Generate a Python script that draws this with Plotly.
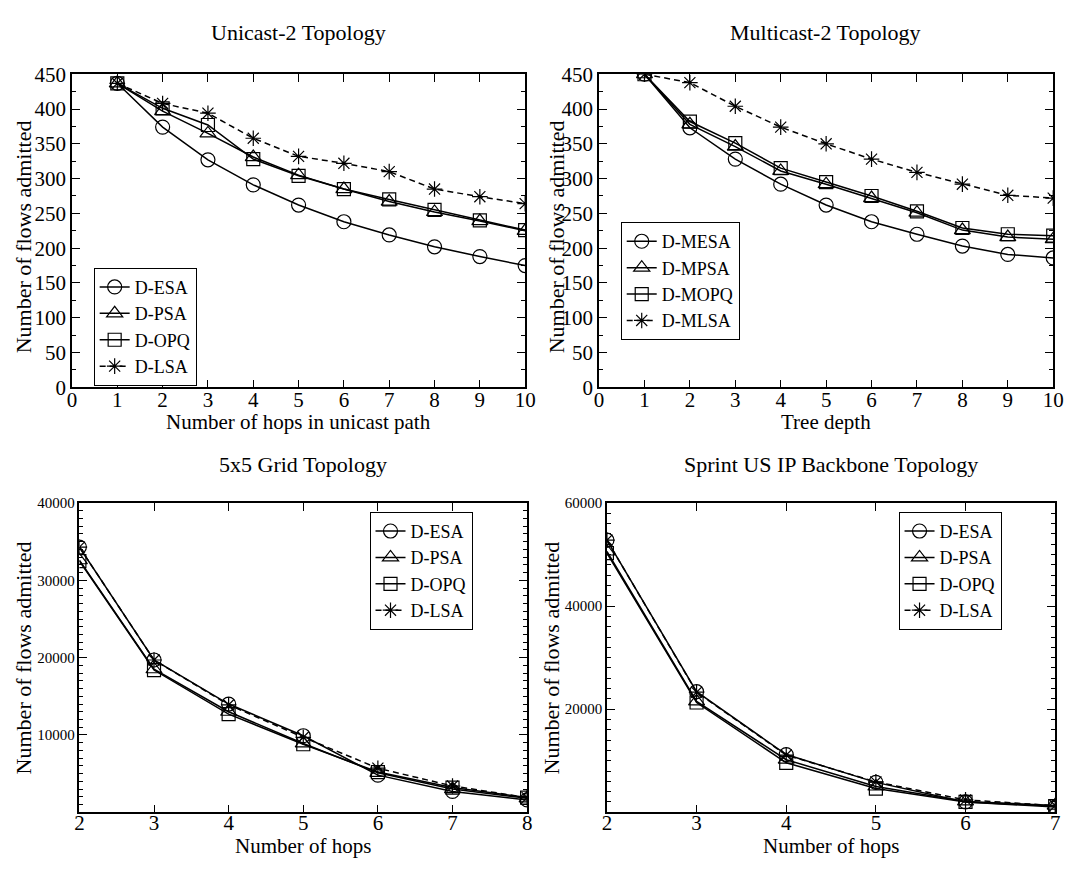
import plotly.graph_objects as go

# ---- data -------------------------------------------------------------
hops_unicast = [1, 2, 3, 4, 5, 6, 7, 8, 9, 10]
esa_unicast = [437, 374, 327, 291, 262, 238, 219, 202, 188, 175]
psa_unicast = [437, 397, 365, 331, 305, 285, 267, 252, 239, 225]
opq_unicast = [437, 401, 377, 328, 304, 285, 270, 255, 240, 226]
lsa_unicast = [437, 408, 394, 358, 332, 322, 310, 285, 274, 264]

tree_depth = [1, 2, 3, 4, 5, 6, 7, 8, 9, 10]
mesa_multicast = [450, 373, 328, 292, 262, 238, 220, 203, 191, 186]
mpsa_multicast = [450, 378, 346, 311, 292, 272, 251, 226, 216, 213]
mopq_multicast = [450, 382, 351, 315, 295, 275, 253, 229, 220, 218]
mlsa_multicast = [450, 438, 404, 374, 350, 328, 309, 292, 276, 272]

hops_grid = [2, 3, 4, 5, 6, 7, 8]
esa_grid = [34300, 19700, 14000, 9900, 4800, 2700, 1600]
psa_grid = [32600, 18500, 13000, 8900, 5100, 3000, 1800]
opq_grid = [32500, 18400, 12700, 8800, 5200, 3200, 1900]
lsa_grid = [34300, 19700, 13900, 9700, 5700, 3400, 1900]

hops_sprint = [2, 3, 4, 5, 6, 7]
esa_sprint = [52800, 23400, 11200, 5800, 2000, 1000]
psa_sprint = [50600, 21500, 10200, 5000, 2100, 1300]
opq_sprint = [50300, 21300, 9600, 4600, 2000, 1200]
lsa_sprint = [52800, 23300, 11100, 5900, 2400, 1300]

names_unicast = ["D-ESA", "D-PSA", "D-OPQ", "D-LSA"]
names_multicast = ["D-MESA", "D-MPSA", "D-MOPQ", "D-MLSA"]

# ---- styling ----------------------------------------------------------
W, H = 1078, 869
FONT = "Liberation Serif"
symbols = ["circle-open", "triangle-up-open", "square-open", "asterisk-open"]
sizes = [14, 14, 13, 13]
dashes = ["solid", "solid", "solid", "6px,4px"]


def px_x(p):
    return p / W


def px_y(p):
    return 1 - p / H


fig = go.Figure()

panels = [
    ("x", "y", "legend", hops_unicast,
     [esa_unicast, psa_unicast, opq_unicast, lsa_unicast], names_unicast),
    ("x2", "y2", "legend2", tree_depth,
     [mesa_multicast, mpsa_multicast, mopq_multicast, mlsa_multicast], names_multicast),
    ("x3", "y3", "legend3", hops_grid,
     [esa_grid, psa_grid, opq_grid, lsa_grid], names_unicast),
    ("x4", "y4", "legend4", hops_sprint,
     [esa_sprint, psa_sprint, opq_sprint, lsa_sprint], names_unicast),
]

for xa, ya, lg, xs, series, names in panels:
    for i, (ys, nm) in enumerate(zip(series, names)):
        fig.add_trace(go.Scatter(
            x=xs, y=ys, name=nm, xaxis=xa, yaxis=ya, legend=lg,
            mode="lines+markers",
            line=dict(color="black", width=1.5, dash=dashes[i]),
            marker=dict(symbol=symbols[i], size=sizes[i], color="black",
                        line=dict(color="black", width=1.2)),
        ))


def axis(domain, rng, dtick=None, tickvals=None, minor=None, fsize=21,
         anchor=None, standoff=0):
    d = dict(domain=domain, range=rng, showline=True, linecolor="black",
             linewidth=1.5, mirror="allticks", ticks="inside", ticklen=8,
             tickwidth=1.2, tickcolor="black", showgrid=False, zeroline=False,
             tickfont=dict(family=FONT, size=fsize, color="black"),
             ticklabelstandoff=standoff, tickformat="d",
             anchor=anchor, fixedrange=True)
    if dtick is not None:
        d["dtick"] = dtick
        d["tick0"] = 0
    if tickvals is not None:
        d["tickmode"] = "array"
        d["tickvals"] = tickvals
    if minor is not None:
        d["minor"] = dict(dtick=minor, tick0=0, ticks="inside", ticklen=4,
                          tickwidth=1, tickcolor="black", showgrid=False)
    return d


top_y = [px_y(386), px_y(64)]
bot_y = [px_y(823), px_y(505)]

fig.update_layout(
    width=W, height=H,
    margin=dict(l=0, r=0, t=0, b=0),
    paper_bgcolor="white", plot_bgcolor="white",
    font=dict(family=FONT, color="black"),
    xaxis=axis([px_x(68), px_x(528)], [0, 10], dtick=1, anchor="y", standoff=-7),
    yaxis=axis(top_y, [0, 450], dtick=50, minor=25, anchor="x"),
    xaxis2=axis([px_x(603), px_x(1064)], [0, 10], dtick=1, anchor="y2", standoff=-7),
    yaxis2=axis(top_y, [0, 450], dtick=50, minor=25, anchor="x2"),
    xaxis3=axis([px_x(75.5), px_x(530)], [2, 8], dtick=1, anchor="y3", standoff=-9),
    yaxis3=axis(bot_y, [0, 40000], tickvals=[10000, 20000, 30000, 40000],
                minor=1000, fsize=15, anchor="x3"),
    xaxis4=axis([px_x(611), px_x(1066)], [2, 7], dtick=1, anchor="y4", standoff=-9),
    yaxis4=axis(bot_y, [0, 60000], tickvals=[20000, 40000, 60000],
                minor=2000, fsize=15, anchor="x4"),
)

legend_style = dict(
    font=dict(family=FONT, size=18, color="black"),
    bgcolor="white", bordercolor="black", borderwidth=1,
    xanchor="left", yanchor="top", itemwidth=30, tracegroupgap=0,
    itemclick=False, itemdoubleclick=False,
)
fig.update_layout(
    legend=dict(x=px_x(90), y=px_y(263), **legend_style),
    legend2=dict(x=px_x(625), y=px_y(216), **legend_style),
    legend3=dict(x=px_x(370), y=px_y(514), **legend_style),
    legend4=dict(x=px_x(907), y=px_y(514), **legend_style),
)

# panel titles and axis titles
texts = [
    ("Unicast-2 Topology", 298, 21, 0, 22),
    ("Multicast-2 Topology", 833, 21, 0, 22),
    ("5x5 Grid Topology", 302, 465, 0, 22),
    ("Sprint US IP Backbone Topology", 838, 465, 0, 22),
    ("Number of hops in unicast path", 298, 422, 0, 21),
    ("Tree depth", 833, 422, 0, 21),
    ("Number of hops", 302, 858, 0, 21),
    ("Number of hops", 838, 858, 0, 21),
    ("Number of flows admitted", 19, 231, -90, 22),
    ("Number of flows admitted", 560, 231, -90, 22),
    ("Number of flows admitted", 19, 664, -90, 22),
    ("Number of flows admitted", 555, 664, -90, 22),
]
for t, x, y, ang, fs in texts:
    fig.add_annotation(text=t, x=px_x(x), y=px_y(y), xref="paper", yref="paper",
                       xanchor="center", yanchor="middle", showarrow=False,
                       textangle=ang, font=dict(family=FONT, size=fs, color="black"))

fig.write_html("out.html")
